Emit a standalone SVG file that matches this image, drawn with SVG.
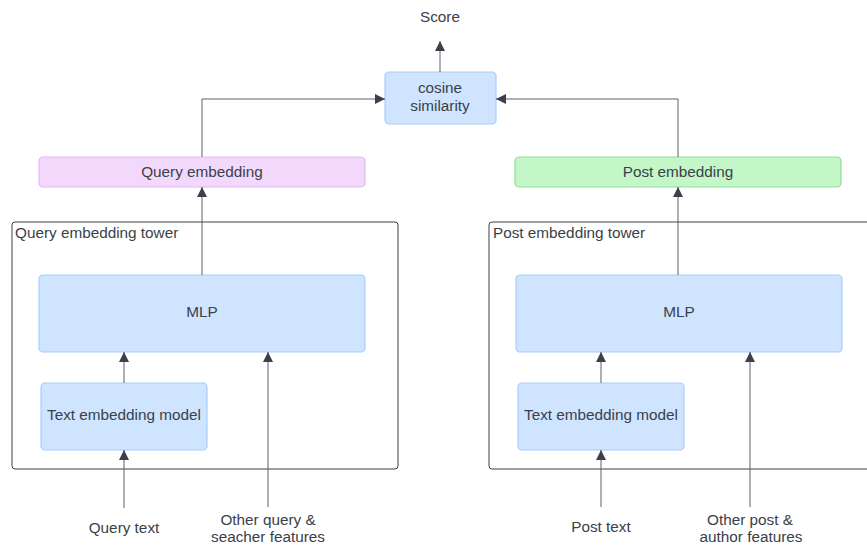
<svg xmlns="http://www.w3.org/2000/svg" width="867" height="545" viewBox="0 0 867 545">
<defs>
<style>
text{font-family:"Liberation Sans",Arial,sans-serif;font-size:15.3px;fill:#3a414a;text-anchor:middle}
.blue{fill:#cfe4ff;stroke:#a9cdfb;stroke-width:1.2}
.purple{fill:#f2d9fc;stroke:#e6b8f6;stroke-width:1.2}
.green{fill:#c3f7c8;stroke:#8fdf97;stroke-width:1.2}
.tower{fill:none;stroke:#3a414a;stroke-width:1}
.conn{fill:none;stroke:#5b636d;stroke-width:1}
.lbl{text-anchor:start}
</style>
<marker id="ah" viewBox="0 0 10 10" refX="10" refY="5" markerWidth="10" markerHeight="10" markerUnits="userSpaceOnUse" orient="auto">
<path d="M0,0 L10,5 L0,10 Z" fill="#3a414a"/>
</marker>
</defs>
<rect width="867" height="545" fill="#ffffff"/>
<g id="query-tower"><rect class="tower" x="12" y="222" width="386" height="247" rx="3"/><text class="lbl" x="15" y="238">Query embedding tower</text></g>
<g id="post-tower"><rect class="tower" x="489" y="222" width="390" height="247" rx="3"/><text class="lbl" x="493" y="238">Post embedding tower</text></g>
<g id="score"><text x="440" y="22">Score</text></g>
<g id="cosine"><rect class="blue" x="385" y="72" width="111" height="52" rx="4"/><text x="440" y="93">cosine</text><text x="440" y="111">similarity</text></g>
<g id="query-embedding"><rect class="purple" x="39" y="157" width="326" height="30" rx="4"/><text x="202" y="177">Query embedding</text></g>
<g id="post-embedding"><rect class="green" x="515" y="157" width="326" height="30" rx="4"/><text x="678" y="177">Post embedding</text></g>
<g id="query-mlp"><rect class="blue" x="39" y="275" width="326" height="77" rx="4"/><text x="202" y="317">MLP</text></g>
<g id="post-mlp"><rect class="blue" x="516" y="275" width="326" height="77" rx="4"/><text x="679" y="317">MLP</text></g>
<g id="query-text-model"><rect class="blue" x="41" y="383" width="166" height="67" rx="4"/><text x="124" y="420">Text embedding model</text></g>
<g id="post-text-model"><rect class="blue" x="518" y="383" width="166" height="67" rx="4"/><text x="601" y="420">Text embedding model</text></g>
<g id="query-text"><text x="124" y="533">Query text</text></g>
<g id="query-features"><text x="268" y="525">Other query &amp;</text><text x="268" y="542">seacher features</text></g>
<g id="post-text"><text x="601" y="532">Post text</text></g>
<g id="post-features"><text x="750" y="525">Other post &amp;</text><text x="751" y="542">author features</text></g>
<g id="connectors">
<path class="conn" d="M440,72 V41" marker-end="url(#ah)"/>
<path class="conn" d="M202,157 V99 H385" marker-end="url(#ah)"/>
<path class="conn" d="M678,157 V99 H496" marker-end="url(#ah)"/>
<path class="conn" d="M202,275 V187" marker-end="url(#ah)"/>
<path class="conn" d="M678,275 V187" marker-end="url(#ah)"/>
<path class="conn" d="M124,383 V352" marker-end="url(#ah)"/>
<path class="conn" d="M124,508 V450" marker-end="url(#ah)"/>
<path class="conn" d="M268,507 V352" marker-end="url(#ah)"/>
<path class="conn" d="M601,383 V352" marker-end="url(#ah)"/>
<path class="conn" d="M601,507 V450" marker-end="url(#ah)"/>
<path class="conn" d="M750,507 V352" marker-end="url(#ah)"/>
</g>
</svg>
